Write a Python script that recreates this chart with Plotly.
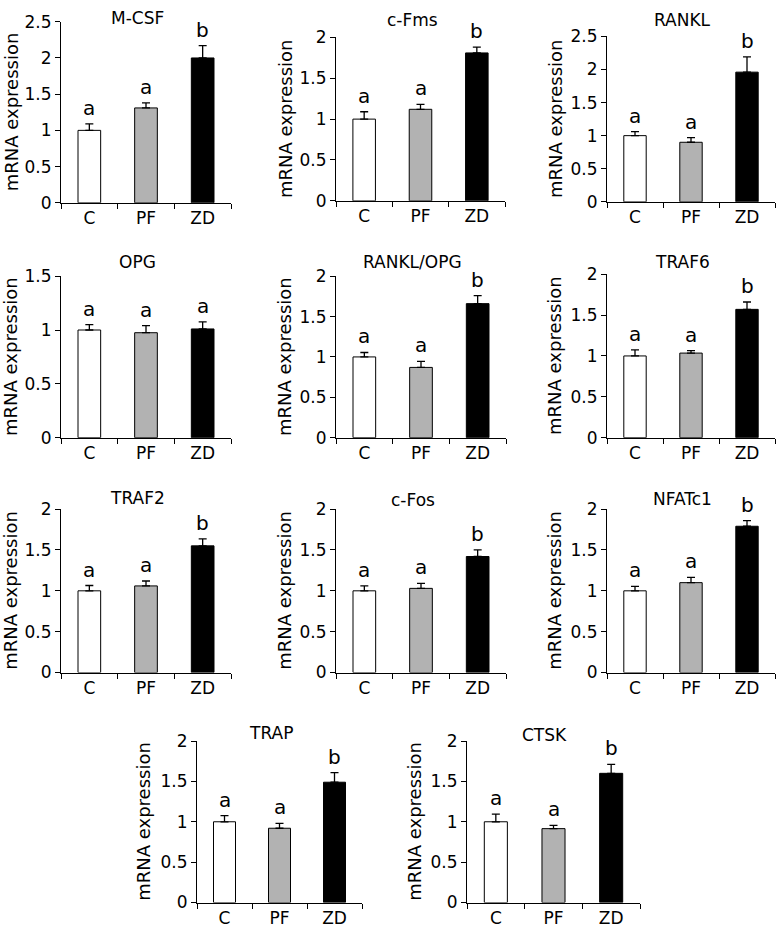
import plotly.graph_objects as go

W, H = 778, 936
groups = ["C", "PF", "ZD"]
colors = ["#ffffff", "#b2b2b2", "#000000"]

names = ["M-CSF", "c-Fms", "RANKL", "OPG", "RANKL/OPG", "TRAF6",
         "TRAF2", "c-Fos", "NFATc1", "TRAP", "CTSK"]

mcsf_mean = [1.00, 1.31, 2.00]
mcsf_err = [0.09, 0.07, 0.17]
cfms_mean = [1.00, 1.12, 1.81]
cfms_err = [0.09, 0.06, 0.07]
rankl_mean = [1.00, 0.90, 1.96]
rankl_err = [0.06, 0.07, 0.23]
opg_mean = [1.00, 0.975, 1.01]
opg_err = [0.05, 0.065, 0.065]
ratio_mean = [1.00, 0.87, 1.66]
ratio_err = [0.055, 0.075, 0.10]
traf6_mean = [1.00, 1.035, 1.57]
traf6_err = [0.075, 0.03, 0.09]
traf2_mean = [1.00, 1.06, 1.55]
traf2_err = [0.065, 0.06, 0.085]
cfos_mean = [1.00, 1.03, 1.42]
cfos_err = [0.06, 0.06, 0.08]
nfatc1_mean = [1.00, 1.10, 1.79]
nfatc1_err = [0.055, 0.065, 0.07]
trap_mean = [1.00, 0.92, 1.49]
trap_err = [0.075, 0.06, 0.12]
ctsk_mean = [1.00, 0.915, 1.60]
ctsk_err = [0.095, 0.04, 0.11]

means = [mcsf_mean, cfms_mean, rankl_mean, opg_mean, ratio_mean, traf6_mean,
         traf2_mean, cfos_mean, nfatc1_mean, trap_mean, ctsk_mean]
errs = [mcsf_err, cfms_err, rankl_err, opg_err, ratio_err, traf6_err,
        traf2_err, cfos_err, nfatc1_err, trap_err, ctsk_err]
letters = [["a", "a", "b"], ["a", "a", "b"], ["a", "a", "b"],
           ["a", "a", "a"], ["a", "a", "b"], ["a", "a", "b"],
           ["a", "a", "b"], ["a", "a", "b"], ["a", "a", "b"],
           ["a", "a", "b"], ["a", "a", "b"]]
ymax = [2.5, 2, 2.5, 1.5, 2, 2, 2, 2, 2, 2, 2]
ytitle = "mRNA expression"

# pixel boxes of plot areas: (left, right, top, bottom)
boxes = [(61, 231, 12, 197), (336, 505, 28, 195), (607, 775, 27, 196),
         (61, 231, 272, 437), (336, 506, 272, 437), (607, 775, 270, 437),
         (61, 231, 510, 677), (336, 506, 510, 677), (607, 775, 510, 677),
         (197, 362, 747, 912), (467, 640, 747, 912)]
title_y = [8, 10, 10, 258, 258, 258, 499, 501, 500, 739, 741]
ytitle_x = [11, 285, 555, 11, 285, 555, 11, 285, 555, 144, 415]

FONT = "DejaVu Sans, Verdana, sans-serif"
fig = go.Figure()
layout = dict(width=W, height=H, margin=dict(l=0, r=0, t=0, b=0, pad=0),
              paper_bgcolor="white", plot_bgcolor="white", showlegend=False,
              font=dict(family=FONT, color="black"))
annotations = []

for i in range(len(names)):
    k = "" if i == 0 else str(i + 1)
    l, r, t, b = boxes[i]
    layout["xaxis" + k] = dict(
        domain=[l / W, r / W], anchor="y" + k, type="category",
        categoryorder="array", categoryarray=groups,
        showline=True, linecolor="black", linewidth=1,
        ticks="outside", tickson="boundaries", ticklen=5, tickcolor="black",
        tickfont=dict(size=17, family=FONT, color="black"),
        showgrid=False, zeroline=False, fixedrange=True)
    layout["yaxis" + k] = dict(
        domain=[1 - b / H, 1 - t / H], anchor="x" + k,
        range=[0, ymax[i]], dtick=0.5, tick0=0,
        showline=True, linecolor="black", linewidth=1,
        ticks="outside", ticklen=5, tickcolor="black",
        tickfont=dict(size=17, family=FONT, color="black"),
        showgrid=False, zeroline=False, fixedrange=True)
    fig.add_trace(go.Bar(
        x=groups, y=means[i], width=0.4,
        marker=dict(color=colors, line=dict(color="black", width=1)),
        error_y=dict(type="data", array=errs[i], arrayminus=[0, 0, 0],
                     symmetric=False, color="black", thickness=1.3, width=4),
        xaxis="x" + k, yaxis="y" + k, hoverinfo="skip"))
    for j, g in enumerate(groups):
        annotations.append(dict(
            x=g, y=means[i][j] + errs[i][j], xref="x" + k, yref="y" + k,
            text=letters[i][j], showarrow=False, yanchor="bottom",
            yshift=2, font=dict(size=20, family=FONT, color="black")))
    annotations.append(dict(
        x=0.45, xref="x" + k + " domain", y=1 - title_y[i] / H, yref="paper",
        text=names[i], showarrow=False, yanchor="middle", xanchor="center",
        font=dict(size=17, family=FONT, color="black")))
    annotations.append(dict(
        x=ytitle_x[i] / W, xref="paper", y=0.5, yref="y" + k + " domain",
        text=ytitle, textangle=-90, showarrow=False,
        xanchor="center", yanchor="middle",
        font=dict(size=18, family=FONT, color="black")))

layout["annotations"] = annotations
fig.update_layout(**layout)
fig.write_html("out.html", config={"displayModeBar": False},
               post_script="document.body.style.margin='0';")
